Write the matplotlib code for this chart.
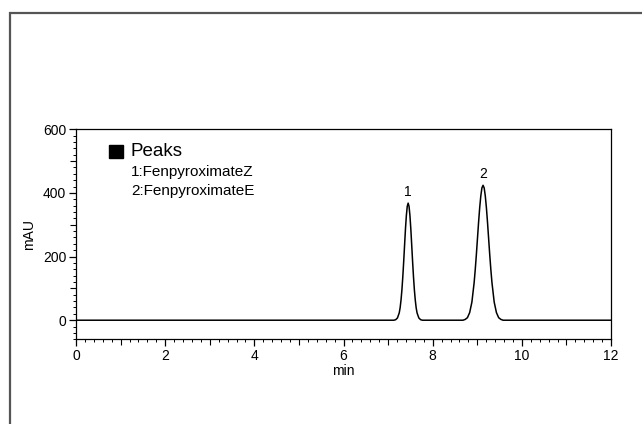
import matplotlib
matplotlib.use("Agg")
import matplotlib.pyplot as plt
from matplotlib.ticker import MultipleLocator, NullFormatter
from matplotlib.patches import Rectangle

plt.rcParams['font.family'] = ['Liberation Sans', 'DejaVu Sans']

# ---- data ----
time_min = [0.0,
            7.13, 7.17, 7.21, 7.25, 7.27, 7.29, 7.31, 7.33, 7.35, 7.37, 7.39,
            7.41, 7.43, 7.45, 7.47, 7.49, 7.51, 7.53, 7.55, 7.57, 7.59, 7.61,
            7.63, 7.65, 7.69, 7.73, 7.77,
            8.68, 8.73, 8.78, 8.83, 8.88, 8.93, 8.955, 8.98, 9.005, 9.03,
            9.055, 9.08, 9.105, 9.13, 9.155, 9.18, 9.205, 9.23, 9.255, 9.28,
            9.305, 9.33, 9.38, 9.43, 9.48, 9.53, 9.58, 12.0]
signal_mau = [0.0,
              0.0, 1.6, 7, 23, 39, 63, 95, 136, 184, 236, 287,
              329, 358, 368, 358, 329, 287, 236, 184, 136, 95, 63,
              39, 23, 7, 1.6, 0.0,
              0.0, 2.5, 8, 24, 57, 118, 159, 206, 257, 308,
              354, 391, 416, 424, 416, 391, 354, 308, 257, 206,
              159, 118, 57, 24, 8, 2.5, 0.0, 0.0]
peak_ids = ["1", "2"]
peak_names = ["FenpyroximateZ", "FenpyroximateE"]
peak_times = [7.45, 9.13]
peak_heights = [368, 424]

W, H = 642, 424
fig = plt.figure(figsize=(W / 100, H / 100), dpi=100)

# outer gray frame (left and top edges visible)
fig.patches.append(Rectangle((10.5 / W, -0.5), 2.0, 1.5 - 12.5 / H,
                             transform=fig.transFigure, fill=False,
                             edgecolor='#555555', linewidth=1.6))

ax = fig.add_axes([76 / W, 1 - 339.3 / H, (611 - 76) / W, (339.3 - 129.3) / H])
ax.plot(time_min, signal_mau, color='black', linewidth=1.1)
ax.set_xlim(0, 12)
ax.set_ylim(-60, 600)

for s in ax.spines.values():
    s.set_linewidth(0.9)

ax.xaxis.set_major_locator(MultipleLocator(2))
ax.xaxis.set_minor_locator(MultipleLocator(0.2))
ax.yaxis.set_major_locator(MultipleLocator(200))
ax.yaxis.set_minor_locator(MultipleLocator(20))
ax.tick_params(axis='both', which='major', direction='out', length=5, width=0.9,
               labelsize=10, pad=2)
ax.tick_params(axis='both', which='minor', direction='out', length=2.5, width=0.7)
ax.tick_params(top=False, right=False)

# medium ticks at odd minutes / hundreds
sx = ax.secondary_xaxis('bottom')
sx.set_xticks([1, 3, 5, 7, 9, 11])
sx.xaxis.set_major_formatter(NullFormatter())
sx.tick_params(direction='out', length=4, width=0.8)
sx.spines['bottom'].set_visible(False)
sy = ax.secondary_yaxis('left')
sy.set_yticks([100, 300, 500])
sy.yaxis.set_major_formatter(NullFormatter())
sy.tick_params(direction='out', length=4, width=0.8)
sy.spines['left'].set_visible(False)

ax.set_xlabel('min', fontsize=10, labelpad=1)
ax.set_ylabel('mAU', fontsize=10, labelpad=5)

# peak labels
for pid, t, h in zip(peak_ids, peak_times, peak_heights):
    ax.annotate(pid, (t, h), xytext=(0, 3), textcoords='offset points',
                ha='center', va='bottom', fontsize=10)

# legend block
def fx(px):
    return px / W

def fy(py):
    return 1 - py / H

fig.patches.append(Rectangle((fx(109), fy(158)), fx(14), 13 / H,
                             transform=fig.transFigure, facecolor='black',
                             edgecolor='black'))
fig.text(fx(130), fy(151), 'Peaks', fontsize=13.5, va='center', ha='left')
for i, (pid, name) in enumerate(zip(peak_ids, peak_names)):
    fig.text(fx(131), fy(172 + 19 * i), f'{pid}:{name}', fontsize=11,
             va='center', ha='left')

fig.savefig('out.png', dpi=100)
